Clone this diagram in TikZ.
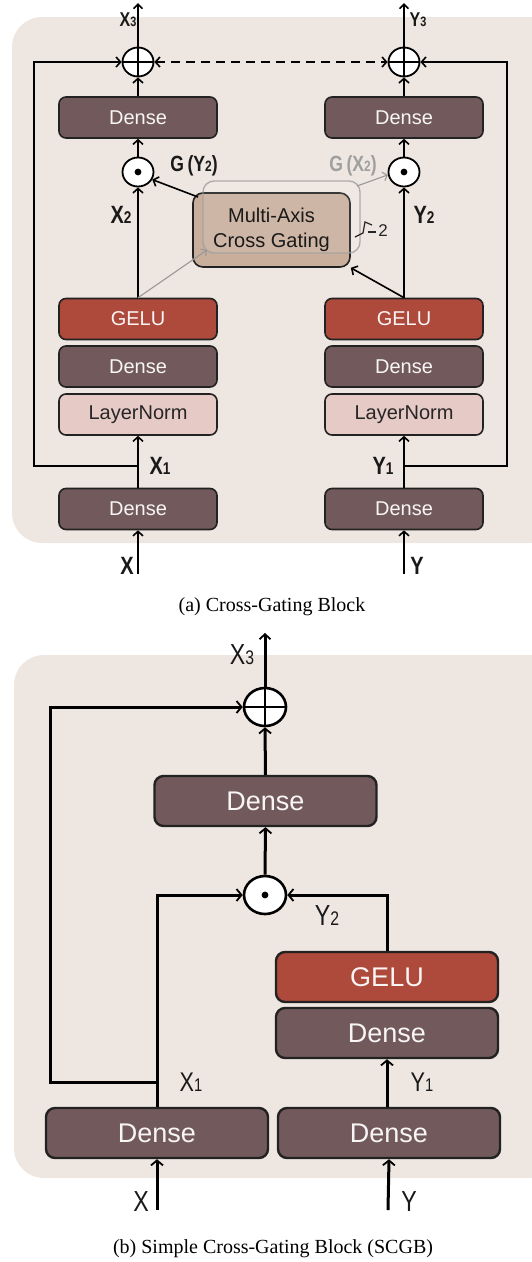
\documentclass[tikz,border=0pt]{standalone}
\usepackage{fontspec}
\usepackage{graphicx}
\setmainfont{Liberation Serif}
\setsansfont{Liberation Sans}
\newfontfamily\labfont[FakeStretch=0.8]{Liberation Sans}
\usetikzlibrary{arrows.meta,shapes.geometric,calc}
\definecolor{bgc}{HTML}{EEE6E0}
\definecolor{densec}{HTML}{725A5C}
\definecolor{geluc}{HTML}{AD4A3C}
\definecolor{lnc}{HTML}{E6CAC5}
\definecolor{macc}{HTML}{C8AE9B}
\definecolor{edgec}{HTML}{222222}
\newcommand\lab[2]{#1\scalebox{0.68}{#2}}
\tikzset{
  mybox/.style={draw=edgec, rounded corners=7pt, line width=1.6pt, minimum width=158pt, minimum height=41pt, inner sep=0pt, font=\fontsize{20}{24}\selectfont\sffamily},
  densebox/.style={mybox, fill=densec, text=white!94!densec},
  gelubox/.style={mybox, fill=geluc, text=white!94!geluc},
  lnbox/.style={mybox, fill=lnc, text=black!85},
  bbox/.style={line width=2.4pt, rounded corners=9pt, minimum width=222pt, minimum height=50pt, font=\fontsize{27}{30}\selectfont\sffamily},
  arrtip/.style={-{Straight Barb[length=4.5pt,width=10pt]}},
  conn/.style={line width=1.6pt, arrtip},
  bconn/.style={line width=3pt, -{Straight Barb[length=5pt,width=12pt,line width=1.8pt]}},
  plusop/.style={draw=black, fill=white, inner sep=0pt, path picture={\draw[black, line width=1.5pt] (path picture bounding box.north) -- (path picture bounding box.south) (path picture bounding box.west) -- (path picture bounding box.east);}},
  dotop/.style={draw=black, fill=white, inner sep=0pt, path picture={\fill[black] (path picture bounding box.center) circle (3.4pt);}},
  aop/.style={ellipse, line width=1.8pt, minimum width=31pt, minimum height=29pt},
  bop/.style={ellipse, line width=2.6pt, minimum width=42pt, minimum height=38pt},
  lbl/.style={inner sep=0pt, text=black!90, font=\labfont\bfseries\fontsize{25}{25}\selectfont},
  captext/.style={inner sep=0pt, font=\fontsize{20}{24}\selectfont},
}
\begin{document}
\begin{tikzpicture}[x=1pt,y=-1pt]
\useasboundingbox (0,0) rectangle (531,1262);
% backgrounds
\fill[bgc, rounded corners=30pt] (12,17) rectangle (560,543);
\fill[bgc, rounded corners=30pt] (14,655) rectangle (560,1178);

% ===== Panel (a) =====
\node[aop,plusop] (plL) at (138,62) {};
\node[aop,plusop] (plR) at (404,62) {};
\node[densebox] (dTL) at (138,117.5) {Dense};
\node[densebox] (dTR) at (404,117.5) {Dense};
\node[aop,dotop] (odL) at (138,172) {};
\node[aop,dotop] (odR) at (404,172) {};
\node[gelubox] (gL) at (138,319) {GELU};
\node[gelubox] (gR) at (404,319) {GELU};
\node[densebox] (dML) at (138,366.5) {Dense};
\node[densebox] (dMR) at (404,366.5) {Dense};
\node[lnbox] (lnL) at (138,414.5) {LayerNorm};
\node[lnbox] (lnR) at (404,414.5) {LayerNorm};
\node[densebox] (dBL) at (138,509) {Dense};
\node[densebox] (dBR) at (404,509) {Dense};
\node[mybox, fill=macc, text=black, minimum width=157pt, minimum height=74pt, rounded corners=10pt, align=center, font=\fontsize{20}{25}\selectfont\sffamily] (mac) at (271.5,230) {Multi-Axis\\Cross Gating};
\node[draw=gray!75, draw opacity=0.8, fill=white, fill opacity=0.1, line width=1.4pt, rounded corners=11pt, minimum width=157pt, minimum height=72pt, inner sep=0pt] (gh) at (281.5,217) {};

\coordinate (jL) at (138,466);
\coordinate (jR) at (404,466);
\coordinate (cL) at (34,466);
\coordinate (cR) at (507,466);
\coordinate (inX) at (138,574);
\coordinate (inY) at (404,574);
\coordinate (outX) at (138,3);
\coordinate (outY) at (404,3);
\coordinate (macTL) at (198,197);
\coordinate (ghTR) at (357,186);
\coordinate (ghIn) at (207,250);

% main flows
\draw[conn] (inX) -- (dBL.south);
\draw[conn] (inY) -- (dBR.south);
\draw[conn] (dBL.north) -- (lnL.south);
\draw[conn] (dBR.north) -- (lnR.south);
\draw[conn] (gL.north) -- (odL.south);
\draw[conn] (gR.north) -- (odR.south);
\draw[conn] (odL.north) -- (dTL.south);
\draw[conn] (odR.north) -- (dTR.south);
\draw[conn] (dTL.north) -- (plL.south);
\draw[conn] (dTR.north) -- (plR.south);
\draw[line width=1.6pt, -{Straight Barb[length=4.5pt,width=9pt]}] (plL.north) -- (outX);
\draw[line width=1.6pt, -{Straight Barb[length=4.5pt,width=9pt]}] (plR.north) -- (outY);
% skip connections
\draw[conn] (jL) -- (cL) |- (plL.west);
\draw[conn] (jR) -- (cR) |- (plR.east);
\draw[line width=1.6pt, dash pattern=on 9pt off 6pt, {Straight Barb[length=4.5pt,width=10pt]}-{Straight Barb[length=4.5pt,width=10pt]}] (plL.east) -- (plR.west);
% cross gating arrows
\draw[line width=1.1pt, gray!80, -{Straight Barb[length=4pt,width=9pt]}] (gL.north) -- (ghIn);
\draw[conn] (gR.north) -- (mac.south east);
\draw[conn] (macTL) -- (odL.-28);
\draw[line width=1.1pt, gray!80, -{Straight Barb[length=4pt,width=9pt]}] (ghTR) -- (odR.190);
% bracket x2
\draw[line width=1.2pt, black!85] (355,237) -- (363,233) -- (365,222) -- (372,225);
\draw[line width=1.2pt, black!85] (368,232) -- (376,232);
\node[inner sep=0pt, text=black!85, font=\fontsize{17}{17}\selectfont\sffamily] (two) at (383,231) {2};

% labels (a)
\node[lbl, font=\labfont\bfseries\fontsize{20}{20}\selectfont] (lx3) at (128,20) {\lab{X}{3}};
\node[lbl, font=\labfont\bfseries\fontsize{20}{20}\selectfont] (ly3) at (418,20) {\lab{Y}{3}};
\node[lbl, font=\labfont\bfseries\fontsize{22}{22}\selectfont] (lgy) at (194,166) {G\,(\lab{Y}{2})};
\node[lbl, text=gray!75, font=\labfont\bfseries\fontsize{22}{22}\selectfont] (lgx) at (353,166) {G\,(\lab{X}{2})};
\node[lbl] (lx2) at (121,215) {\lab{X}{2}};
\node[lbl] (ly2) at (424,215) {\lab{Y}{2}};
\node[lbl] (lx1) at (160,466) {\lab{X}{1}};
\node[lbl] (ly1) at (383,466) {\lab{Y}{1}};
\node[lbl] (lx) at (127,566) {X};
\node[lbl] (ly) at (417,566) {Y};
\node[captext] (capa) at (272,607) {(a) Cross-Gating Block};

% ===== Panel (b) =====
\node[bop,plusop] (bpl) at (265,707) {};
\node[densebox,bbox] (bdT) at (265.5,801) {Dense};
\node[bop,dotop] (bod) at (265,895) {};
\node[gelubox,bbox] (bg) at (387,977) {GELU};
\node[densebox,bbox] (bdM) at (387,1033) {Dense};
\node[densebox,bbox] (bdL) at (157,1133) {Dense};
\node[densebox,bbox] (bdR) at (389,1133) {Dense};

\coordinate (bj) at (157,1082);
\coordinate (bc) at (50,1082);
\coordinate (bi) at (157,895);
\coordinate (br) at (387,895);
\coordinate (binX) at (157,1210);
\coordinate (binY) at (388,1210);
\coordinate (bout) at (265,633);

\draw[bconn] (binX) -- (bdL.south);
\draw[bconn] (binY) -- (bdR.south);
\draw[bconn] (bdR.north -| bdM.south) -- (bdM.south);
\draw[bconn] (bdL.north) -- (bi) -- (bod.west);
\draw[bconn] (bg.north) -- (br) -- (bod.east);
\draw[bconn] (bod.north) -- (bdT.south);
\draw[bconn] (bdT.north) -- (bpl.south);
\draw[line width=3pt, -{Straight Barb[length=5pt,width=11pt,line width=1.8pt]}] (bpl.north) -- (bout);
\draw[bconn] (bj) -- (bc) |- (bpl.west);

\node[lbl, font=\labfont\fontsize{29}{29}\selectfont] (bx3) at (242,655) {\lab{X}{3}};
\node[lbl, font=\labfont\fontsize{29}{29}\selectfont] (by2) at (327,916) {\lab{Y}{2}};
\node[lbl, font=\labfont\fontsize{27}{27}\selectfont] (bx1) at (191,1082) {\lab{X}{1}};
\node[lbl, font=\labfont\fontsize{27}{27}\selectfont] (by1) at (422,1082) {\lab{Y}{1}};
\node[lbl, font=\labfont\fontsize{29}{29}\selectfont] (bx) at (141,1202) {X};
\node[lbl, font=\labfont\fontsize{29}{29}\selectfont] (by) at (409,1202) {Y};
\node[captext] (capb) at (273,1249) {(b) Simple Cross-Gating Block (SCGB)};
\end{tikzpicture}
\end{document}
